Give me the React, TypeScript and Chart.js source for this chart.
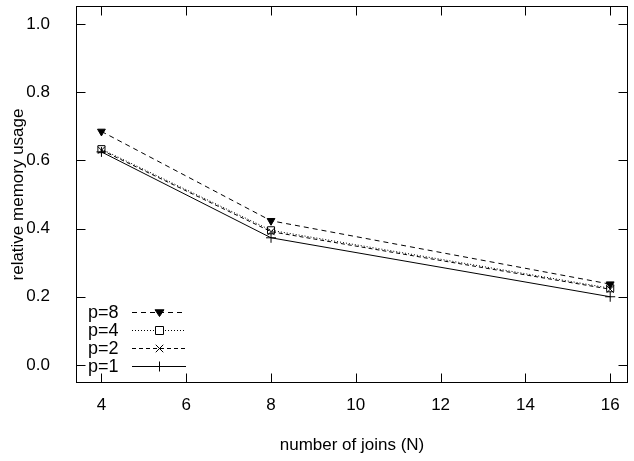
import React, { useEffect, useRef } from "react";
import { Chart, registerables } from "chart.js";

Chart.register(...registerables);

// Number of joins on the x axis
const joins = [4, 8, 16];

// Relative memory usage per parallelism level
const p8 = [0.685, 0.423, 0.237];
const p4 = [0.633, 0.395, 0.225];
const p2 = [0.630, 0.391, 0.222];
const p1 = [0.625, 0.373, 0.200];

const seriesLabels = ["p=8", "p=4", "p=2", "p=1"];

const xTicks = [4, 6, 8, 10, 12, 14, 16];
const yTicks = [0.0, 0.2, 0.4, 0.6, 0.8, 1.0];

const FONT = "'Liberation Sans', Arial, Helvetica, sans-serif";
const FONT_SIZE = 17;
const KEY_FONT_SIZE = 18;
const TICK_LEN = 9;

type StyleDef = {
  dash: number[];
  pointStyle: string;
  rotation: number;
  fill: boolean;
  radius: number;
};

const styles: StyleDef[] = [
  { dash: [5, 4], pointStyle: "triangle", rotation: 180, fill: true, radius: 4.5 },
  { dash: [1, 2], pointStyle: "rect", rotation: 0, fill: false, radius: 5 },
  { dash: [4, 3], pointStyle: "crossRot", rotation: 0, fill: false, radius: 5 },
  { dash: [], pointStyle: "cross", rotation: 0, fill: false, radius: 5 },
];

// Frame with inward ticks on all four sides, gnuplot style
const framePlugin = {
  id: "frame",
  afterDraw(chart: any) {
    const { ctx, chartArea } = chart;
    const xs = chart.scales.x;
    const ys = chart.scales.y;
    const l = Math.round(chartArea.left) + 0.5;
    const r = Math.round(chartArea.right) - 0.5;
    const t = Math.round(chartArea.top) + 0.5;
    const b = Math.round(chartArea.bottom) - 0.5;
    ctx.save();
    ctx.strokeStyle = "#000";
    ctx.lineWidth = 1;
    ctx.setLineDash([]);
    ctx.strokeRect(l, t, r - l, b - t);
    ctx.beginPath();
    for (const v of xTicks) {
      const px = Math.round(xs.getPixelForValue(v)) + 0.5;
      ctx.moveTo(px, b);
      ctx.lineTo(px, b - TICK_LEN);
      ctx.moveTo(px, t);
      ctx.lineTo(px, t + TICK_LEN);
    }
    for (const v of yTicks) {
      const py = Math.round(ys.getPixelForValue(v)) + 0.5;
      ctx.moveTo(l, py);
      ctx.lineTo(l + TICK_LEN, py);
      ctx.moveTo(r, py);
      ctx.lineTo(r - TICK_LEN, py);
    }
    ctx.stroke();
    ctx.restore();
  },
};

function drawMarker(ctx: CanvasRenderingContext2D, st: StyleDef, x: number, y: number) {
  const r = st.radius;
  ctx.save();
  ctx.strokeStyle = "#000";
  ctx.lineWidth = 1;
  ctx.setLineDash([]);
  ctx.beginPath();
  if (st.pointStyle === "triangle") {
    ctx.fillStyle = "#000";
    ctx.moveTo(x - r, y - r * 0.6);
    ctx.lineTo(x + r, y - r * 0.6);
    ctx.lineTo(x, y + r * 0.9);
    ctx.closePath();
    ctx.fill();
    ctx.stroke();
  } else if (st.pointStyle === "rect") {
    const s = r * 0.8;
    ctx.fillStyle = "#fff";
    ctx.rect(x - s, y - s, s * 2, s * 2);
    ctx.fill();
    ctx.stroke();
  } else if (st.pointStyle === "crossRot") {
    const s = r * 0.75;
    ctx.moveTo(x - s, y - s);
    ctx.lineTo(x + s, y + s);
    ctx.moveTo(x + s, y - s);
    ctx.lineTo(x - s, y + s);
    ctx.stroke();
  } else {
    ctx.moveTo(x - r, y);
    ctx.lineTo(x + r, y);
    ctx.moveTo(x, y - r);
    ctx.lineTo(x, y + r);
    ctx.stroke();
  }
  ctx.restore();
}

// Key in the lower-left corner: label, line sample, marker
const keyPlugin = {
  id: "key",
  afterDraw(chart: any) {
    const { ctx, chartArea } = chart;
    const textX = chartArea.left + 12;
    const lineX0 = chartArea.left + 56;
    const lineX1 = chartArea.left + 110;
    const rowY0 = chartArea.bottom - 71;
    const rowH = 18;
    ctx.save();
    ctx.font = `${KEY_FONT_SIZE}px ${FONT}`;
    ctx.textBaseline = "middle";
    ctx.textAlign = "left";
    chart.data.datasets.forEach((ds: any, i: number) => {
      const y = Math.round(rowY0 + i * rowH) + 0.5;
      ctx.fillStyle = "#000";
      ctx.fillText(ds.label, textX, y + 1);
      ctx.strokeStyle = "#000";
      ctx.lineWidth = 1;
      ctx.setLineDash(ds.borderDash || []);
      ctx.beginPath();
      ctx.moveTo(lineX0, y);
      ctx.lineTo(lineX1, y);
      ctx.stroke();
      const mx = Math.round((lineX0 + lineX1) / 2) + 0.5;
      drawMarker(ctx, styles[i], mx, y);
    });
    ctx.restore();
  },
};

export default function App() {
  const canvasRef = useRef<HTMLCanvasElement | null>(null);

  useEffect(() => {
    if (!canvasRef.current) return;
    const values = [p8, p4, p2, p1];
    const chart = new Chart(canvasRef.current, {
      type: "line",
      data: {
        datasets: values.map((vals, i) => ({
          label: seriesLabels[i],
          data: joins.map((x, j) => ({ x, y: vals[j] })),
          // later series are painted over earlier ones
          order: values.length - i,
          borderColor: "#000",
          backgroundColor: styles[i].fill ? "#000" : "rgba(0,0,0,0)",
          borderWidth: 1,
          borderDash: styles[i].dash,
          pointStyle: styles[i].pointStyle as any,
          pointRotation: styles[i].rotation,
          pointRadius: styles[i].radius,
          pointBorderColor: "#000",
          pointBorderWidth: 1,
          pointBackgroundColor: styles[i].fill ? "#000" : "rgba(0,0,0,0)",
          tension: 0,
          fill: false,
        })),
      },
      options: {
        responsive: false,
        animation: false,
        events: [],
        layout: { padding: { left: 0, right: 1, top: 5, bottom: 0 } },
        plugins: {
          legend: { display: false },
          tooltip: { enabled: false },
        },
        scales: {
          x: {
            type: "linear",
            min: 3.4,
            max: 16.42,
            afterBuildTicks: (scale: any) => {
              scale.ticks = xTicks.map((v) => ({ value: v }));
            },
            afterFit: (scale: any) => {
              scale.height = 78;
              scale.paddingLeft = 0;
              scale.paddingRight = 0;
            },
            grid: { display: false, drawTicks: false },
            border: { display: false },
            ticks: {
              color: "#000",
              font: { family: FONT, size: FONT_SIZE },
              padding: 12,
              maxRotation: 0,
              autoSkip: false,
            },
            title: {
              display: true,
              text: "number of joins (N)",
              color: "#000",
              font: { family: FONT, size: FONT_SIZE },
              padding: 5,
            },
          },
          y: {
            type: "linear",
            min: -0.053,
            max: 1.053,
            afterBuildTicks: (scale: any) => {
              scale.ticks = yTicks.map((v) => ({ value: v }));
            },
            afterFit: (scale: any) => {
              scale.width = 76;
              scale.paddingTop = 0;
              scale.paddingBottom = 0;
            },
            grid: { display: false, drawTicks: false },
            border: { display: false },
            ticks: {
              color: "#000",
              font: { family: FONT, size: FONT_SIZE },
              padding: 26,
              autoSkip: false,
              callback: (v: any) => Number(v).toFixed(1),
            },
            title: {
              display: true,
              text: "relative memory usage",
              color: "#000",
              font: { family: FONT, size: FONT_SIZE },
              padding: 8,
            },
          },
        },
      },
      plugins: [framePlugin, keyPlugin],
    });
    return () => chart.destroy();
  }, []);

  return (
    <div style={{ position: "absolute", left: 0, top: 0, width: 634, height: 461, background: "#fff" }}>
      <canvas ref={canvasRef} width={634} height={461} />
    </div>
  );
}
